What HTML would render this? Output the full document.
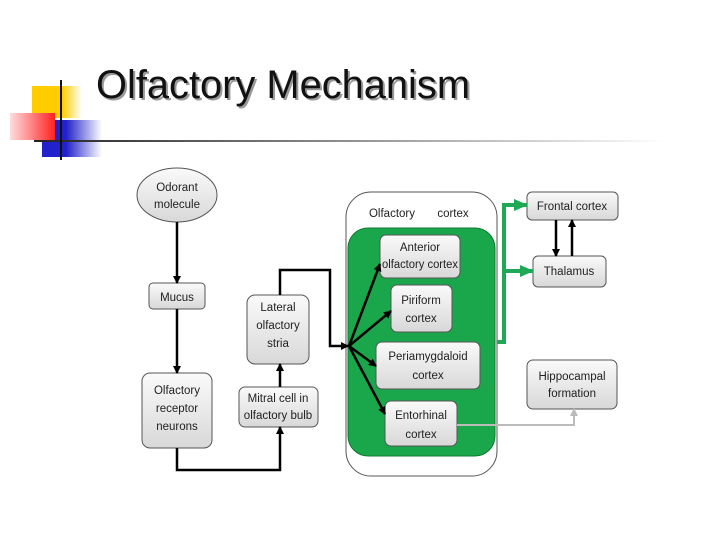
<!DOCTYPE html>
<html><head><style>
body{margin:0;width:720px;height:540px;background:#fff;overflow:hidden;font-family:"Liberation Sans",sans-serif}
</style></head><body>
<svg width="720" height="540" viewBox="0 0 720 540" xmlns="http://www.w3.org/2000/svg">
<defs>
<linearGradient id="hl" x1="0" x2="1"><stop offset="0" stop-color="#222"/><stop offset="1" stop-color="#fff"/></linearGradient>
<linearGradient id="red" x1="1" x2="0"><stop offset="0" stop-color="#f22"/><stop offset="1" stop-color="#fdd"/></linearGradient>
<linearGradient id="blue" x1="0" x2="1"><stop offset="0.4" stop-color="#22c"/><stop offset="1" stop-color="#fff"/></linearGradient>
<linearGradient id="yel" x1="0" x2="1"><stop offset="0.6" stop-color="#fc0"/><stop offset="1" stop-color="#fff"/></linearGradient>
<linearGradient id="nd" x1="0" y1="0" x2="0" y2="1"><stop offset="0" stop-color="#fafafa"/><stop offset="1" stop-color="#d8d8d8"/></linearGradient>
<marker id="ab" markerWidth="8" markerHeight="8" refX="7" refY="4" orient="auto" markerUnits="userSpaceOnUse"><path d="M0,0L8,4L0,8z" fill="#000"/></marker>
<marker id="ag" markerWidth="14" markerHeight="12" refX="13" refY="6" orient="auto" markerUnits="userSpaceOnUse"><path d="M0,0L14,6L0,12z" fill="#1fa855"/></marker>
<marker id="ay" markerWidth="8" markerHeight="8" refX="7" refY="4" orient="auto" markerUnits="userSpaceOnUse"><path d="M0,0L8,4L0,8z" fill="#bbb"/></marker>
</defs>
<rect x="32" y="86" width="50" height="32" fill="url(#yel)"/>
<rect x="42" y="120" width="60" height="37" fill="url(#blue)"/>
<rect x="10" y="113" width="45" height="27" fill="url(#red)"/>
<rect x="34" y="140" width="630" height="2" fill="url(#hl)"/>
<rect x="60" y="80" width="2" height="80" fill="#111"/>
<text x="96" y="98" font-size="40" fill="#999" transform="translate(2,2)" textLength="374" lengthAdjust="spacingAndGlyphs">Olfactory Mechanism</text>
<text x="96" y="98" font-size="40" fill="#111" textLength="374" lengthAdjust="spacingAndGlyphs">Olfactory Mechanism</text>

<g stroke="#555" stroke-width="1" fill="url(#nd)">
<ellipse cx="177" cy="195" rx="40" ry="27"/>
<rect x="149" y="283" width="56" height="26" rx="4"/>
<rect x="142" y="373" width="70" height="75" rx="8"/>
<rect x="247" y="295" width="62" height="69" rx="8"/>
<rect x="239" y="387" width="79" height="40" rx="6"/>
<rect x="346" y="192" width="151" height="284" rx="25" fill="#fff"/>
<rect x="348" y="228" width="147" height="228" rx="20" fill="#1aa64a" stroke="#0e7a33"/>
<rect x="380" y="235" width="80" height="43" rx="6"/>
<rect x="391" y="285" width="61" height="47" rx="6"/>
<rect x="376" y="342" width="104" height="47" rx="6"/>
<rect x="385" y="401" width="72" height="45" rx="6"/>
<rect x="527" y="192" width="91" height="28" rx="5"/>
<rect x="533" y="256" width="73" height="31" rx="5"/>
<rect x="527" y="360" width="90" height="49" rx="6"/>
</g>
<g font-size="11.5" fill="#222" text-anchor="middle">
<text x="177" y="191">Odorant</text><text x="177" y="208">molecule</text>
<text x="177" y="301">Mucus</text>
<text x="177" y="394">Olfactory</text><text x="177" y="412">receptor</text><text x="177" y="430">neurons</text>
<text x="278" y="311">Lateral</text><text x="278" y="329">olfactory</text><text x="278" y="347">stria</text>
<text x="278" y="402">Mitral cell in</text><text x="278" y="419">olfactory bulb</text>
<text x="392" y="217">Olfactory</text><text x="453" y="217">cortex</text>
<text x="420" y="251">Anterior</text><text x="420" y="268" textLength="76" lengthAdjust="spacingAndGlyphs">olfactory cortex</text>
<text x="421" y="304">Piriform</text><text x="421" y="322">cortex</text>
<text x="428" y="360">Periamygdaloid</text><text x="428" y="379">cortex</text>
<text x="421" y="419">Entorhinal</text><text x="421" y="438">cortex</text>
<text x="572" y="210">Frontal cortex</text>
<text x="569" y="275">Thalamus</text>
<text x="572" y="380">Hippocampal</text><text x="572" y="397">formation</text>
</g>
<g stroke="#000" stroke-width="2.5" fill="none" marker-end="url(#ab)">
<path d="M177,222V283"/>
<path d="M177,309V373"/>
<path d="M177,448V470H280V427"/>
<path d="M280,387V364"/>
<path d="M280,295V270H330V346H348"/>
<path d="M349,346L380,264"/>
<path d="M349,346L391,311"/>
<path d="M349,346L376,366"/>
<path d="M349,346L385,414"/>
<path d="M556,220V256"/>
<path d="M572,256V220"/>
</g>
<g stroke="#1fa855" stroke-width="4" fill="none" marker-end="url(#ag)">
<path d="M497,342H504V205H527"/>
<path d="M504,271H533"/>
</g>
<path d="M457,425H574V409" stroke="#bbb" stroke-width="2" fill="none" marker-end="url(#ay)"/>
</svg>
</body></html>
